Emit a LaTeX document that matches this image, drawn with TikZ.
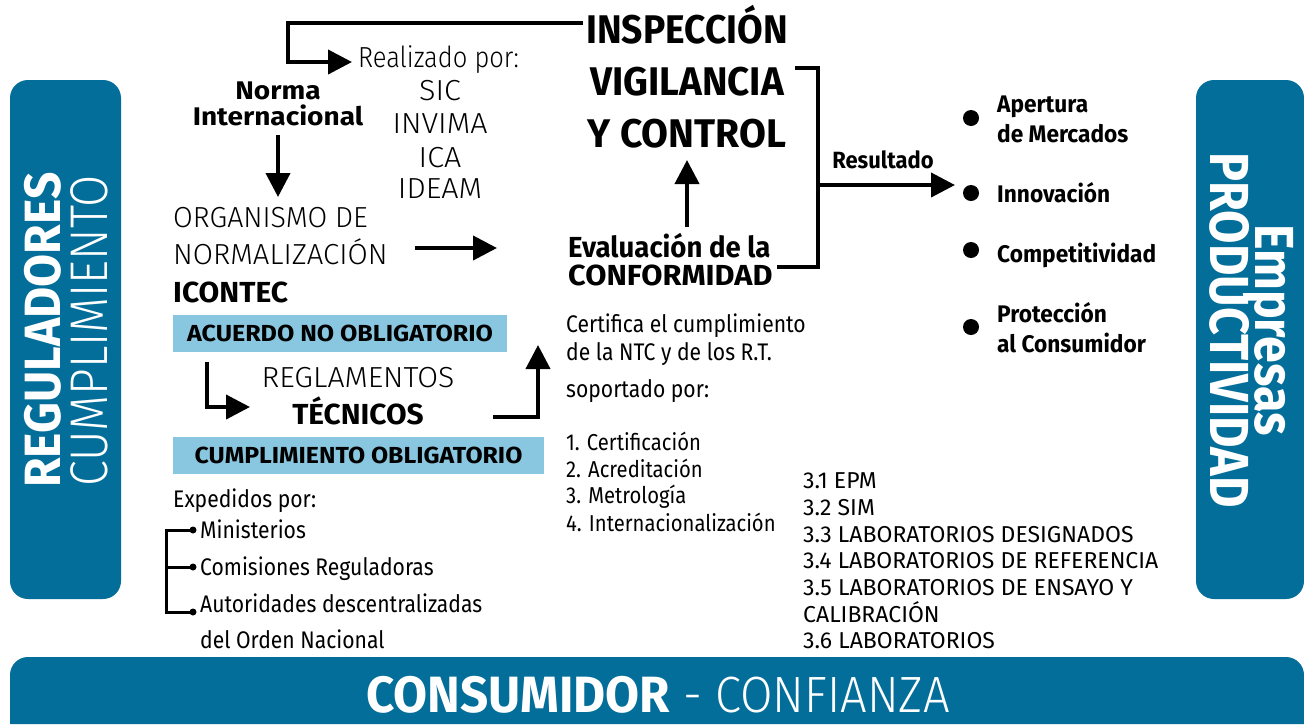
\documentclass[tikz,border=0pt]{standalone}
\usepackage{fontspec}
\setmainfont{Fira Sans}[FakeStretch=0.88]
\newfontfamily\lightfont{Fira Sans Light}[FakeStretch=0.88]
\newfontfamily\ff{Fira Sans}
\newfontfamily\lf{Fira Sans Light}
\newfontfamily\sbA{Fira Sans}[FakeStretch=0.94]
\newfontfamily\sbB{Fira Sans}[FakeStretch=0.92]
\usetikzlibrary{arrows.meta}
\definecolor{dblue}{RGB}{3,110,153}
\definecolor{lblue}{RGB}{137,198,224}
\newcommand{\fsz}[1]{\fontsize{#1}{#1}\selectfont}
\begin{document}
\begin{tikzpicture}[x=1pt,y=-1pt,
  txt/.style={inner sep=0pt, anchor=base west},
  ctxt/.style={inner sep=0pt, anchor=base},
  arr/.style={line width=4pt, -{Triangle[length=24pt,width=24pt]}},
  brk/.style={line width=4pt},
  thinbrk/.style={line width=3pt},
  band/.style={fill=dblue, draw=none, rounded corners=18pt},
  lbox/.style={fill=lblue, draw=none, inner sep=0pt, font=\ff\bfseries\fsz{23.2}},
  dot/.style={circle, fill=black, inner sep=0pt, minimum size=16pt},
  side/.style={inner sep=0pt, anchor=base, text=white},
  bullet/.style={txt, font=\ff\bfseries\fsz{24}, xscale=0.945},
  biglight/.style={font=\lf\fsz{29}},
  labl/.style={txt, font=\ff\fsz{23}}
]
\useasboundingbox (0,0) rectangle (1304,724);

% side bands
\fill[band] (10,80) rectangle (121,599);
\fill[band] (1196,80) rectangle (1304,599);
\fill[fill=dblue] (10,724) -- (10,675) arc[start angle=180,end angle=90,radius=18pt] -- (1286,657) arc[start angle=90,end angle=0,radius=18pt] -- (1304,724) -- cycle;

\node[side, rotate=90, font=\sbA\bfseries\fsz{51}] (reg) at (60,330) {REGULADORES};
\node[side, rotate=90, font=\lightfont\fsz{53}] (cump) at (107,331) {CUMPLIMIENTO};
\node[side, rotate=-90, font=\bfseries\fsz{55}] (emp) at (1255,330) {Empresas};
\node[side, rotate=-90, font=\bfseries\fsz{55}] (prod) at (1210,330) {PRODUCTIVIDAD};
\node[side, font=\fsz{51}, xscale=1.05] (cons) at (658,712) {{\sbB\bfseries CONSUMIDOR}{\lightfont\ - CONFIANZA}};

% Inspeccion
\node[ctxt, font=\ff\bfseries\fsz{40}, xscale=0.93] (insp1) at (687,43) {INSPECCIÓN};
\node[ctxt, font=\ff\bfseries\fsz{40}, xscale=0.965] (insp2) at (687,95) {VIGILANCIA};
\node[ctxt, font=\ff\bfseries\fsz{40}, xscale=0.975] (insp3) at (687,147) {Y CONTROL};

% Realizado
\node[txt, font=\lightfont\fsz{29}] (real) at (358,67) {Realizado por:};
\node[ctxt, biglight, xscale=1.05] (sic) at (440,100) {SIC};
\node[ctxt, biglight, xscale=1.05] (invima) at (440,133) {INVIMA};
\node[ctxt, biglight, xscale=1.05] (ica) at (440,167) {ICA};
\node[ctxt, biglight, xscale=1.05] (ideam) at (440,198) {IDEAM};

% Norma
\node[ctxt, font=\ff\bfseries\fsz{25.5}, xscale=1.1] (norma1) at (278,99) {Norma};
\node[ctxt, font=\ff\bfseries\fsz{25.5}, xscale=1.1] (norma2) at (278,125) {Internacional};

% Organismo
\node[txt, biglight, xscale=0.985] (org1) at (173,227) {ORGANISMO DE};
\node[txt, biglight, xscale=1.01] (org2) at (173,264) {NORMALIZACIÓN};
\node[txt, font=\ff\bfseries\fsz{29}, xscale=1.035] (icontec) at (173,302) {ICONTEC};

\node[lbox, minimum width=309.3pt, minimum height=37pt, xscale=1.08] (acuerdo) at (340,333.5) {ACUERDO NO OBLIGATORIO};
\node[ctxt, biglight, xscale=1.04] (regl) at (358,387) {REGLAMENTOS};
\node[ctxt, font=\ff\bfseries\fsz{29}, xscale=1.03] (tecn) at (358,424) {TÉCNICOS};
\node[lbox, minimum width=346.7pt, minimum height=37pt, xscale=1.07] (cumpl) at (358.5,455.5) {CUMPLIMIENTO OBLIGATORIO};

\node[txt, font=\fsz{24}] (exped) at (173,507) {Expedidos por:};
\node[txt, font=\fsz{24}] (minis) at (200,538) {Ministerios};
\node[txt, font=\fsz{24}] (comis) at (200,575) {Comisiones Reguladoras};
\node[txt, font=\fsz{24}] (autor) at (200,612) {Autoridades descentralizadas};
\node[txt, font=\fsz{24}] (orden) at (200,648) {del Orden Nacional};

% Evaluacion
\node[txt, font=\ff\bfseries\fsz{29}, xscale=0.95] (eval1) at (568,257) {Evaluación de la};
\node[txt, font=\ff\bfseries\fsz{29}, xscale=1.06] (eval2) at (568,285) {CONFORMIDAD};
\node[txt, font=\fsz{24}] (cert1) at (566,332) {Certifica el cumplimiento};
\node[txt, font=\fsz{24}] (cert2) at (566,360) {de la NTC y de los R.T.};
\node[txt, font=\fsz{24}] (sop) at (566,397) {soportado por:};
\node[txt, font=\fsz{23}] (l1) at (566,450) {1. Certificación};
\node[txt, font=\fsz{23}] (l2) at (566,477) {2. Acreditación};
\node[txt, font=\fsz{23}] (l3) at (566,503) {3. Metrología};
\node[txt, font=\fsz{23}] (l4) at (566,531) {4. Internacionalización};

\node[labl] (m1) at (803,488) {3.1 EPM};
\node[labl] (m2) at (803,515) {3.2 SIM};
\node[labl] (m3) at (803,542) {3.3 LABORATORIOS DESIGNADOS};
\node[labl] (m4) at (803,568) {3.4 LABORATORIOS DE REFERENCIA};
\node[labl] (m5) at (803,595) {3.5 LABORATORIOS DE ENSAYO Y};
\node[labl] (m6) at (803,622) {CALIBRACIÓN};
\node[labl] (m7) at (803,648) {3.6 LABORATORIOS};

% Resultado
\node[ctxt, font=\ff\bfseries\fsz{23.5}, xscale=0.935] (res) at (883,168) {Resultado};
\node[dot] (d1) at (971,118) {};
\node[dot] (d2) at (971,193) {};
\node[dot] (d3) at (971,250) {};
\node[dot] (d4) at (971,327) {};
\node[bullet] (b1) at (997,112) {Apertura};
\node[bullet] (b1b) at (997,142) {de Mercados};
\node[bullet] (b2) at (997,202) {Innovación};
\node[bullet] (b3) at (997,262) {Competitividad};
\node[bullet] (b4) at (997,322) {Protección};
\node[bullet] (b4b) at (997,352) {al Consumidor};

% connector points
\coordinate (c1a) at (583,23);
\coordinate (c1b) at (288,23);
\coordinate (c1c) at (288,62);
\coordinate (c1d) at (352,62);
\coordinate (c2a) at (278,135);
\coordinate (c2b) at (278,197);
\coordinate (c3a) at (415,248);
\coordinate (c3b) at (497,248);
\coordinate (c4a) at (207,362);
\coordinate (c4b) at (207,407);
\coordinate (c4c) at (250,407);
\coordinate (c5a) at (493,417);
\coordinate (c5b) at (538,417);
\coordinate (c5c) at (538,345);
\coordinate (c6a) at (687,227);
\coordinate (c6b) at (687,160);
\coordinate (k1) at (795,68);
\coordinate (k2) at (818,68);
\coordinate (k3) at (818,267);
\coordinate (k4) at (777,267);
\coordinate (k5) at (818,185);
\coordinate (k6) at (955,185);
\coordinate (e1) at (166,530);
\coordinate (e2) at (166,567);
\coordinate (e3) at (166,612);
\coordinate (t1) at (193,530);
\coordinate (t2) at (193,567);
\coordinate (t3) at (193,612);

\draw[arr] (c1a) -- (c1b) -- (c1c) -- (c1d);
\draw[arr] (c2a) -- (c2b);
\draw[arr] (c3a) -- (c3b);
\draw[arr] (c4a) -- (c4b) -- (c4c);
\draw[arr] (c5a) -- (c5b) -- (c5c);
\draw[arr] (c6a) -- (c6b);
\draw[brk] (k1) -- (k2) -- (k3) -- (k4);
\draw[arr] (k5) -- (k6);
\draw[thinbrk] (t1) -- (e1) -- (e3) -- (t3);
\draw[thinbrk] (e2) -- (t2);
\fill (t1) circle[radius=3.5pt];
\fill (t2) circle[radius=3.5pt];
\fill (t3) circle[radius=3.5pt];
\end{tikzpicture}
\end{document}
